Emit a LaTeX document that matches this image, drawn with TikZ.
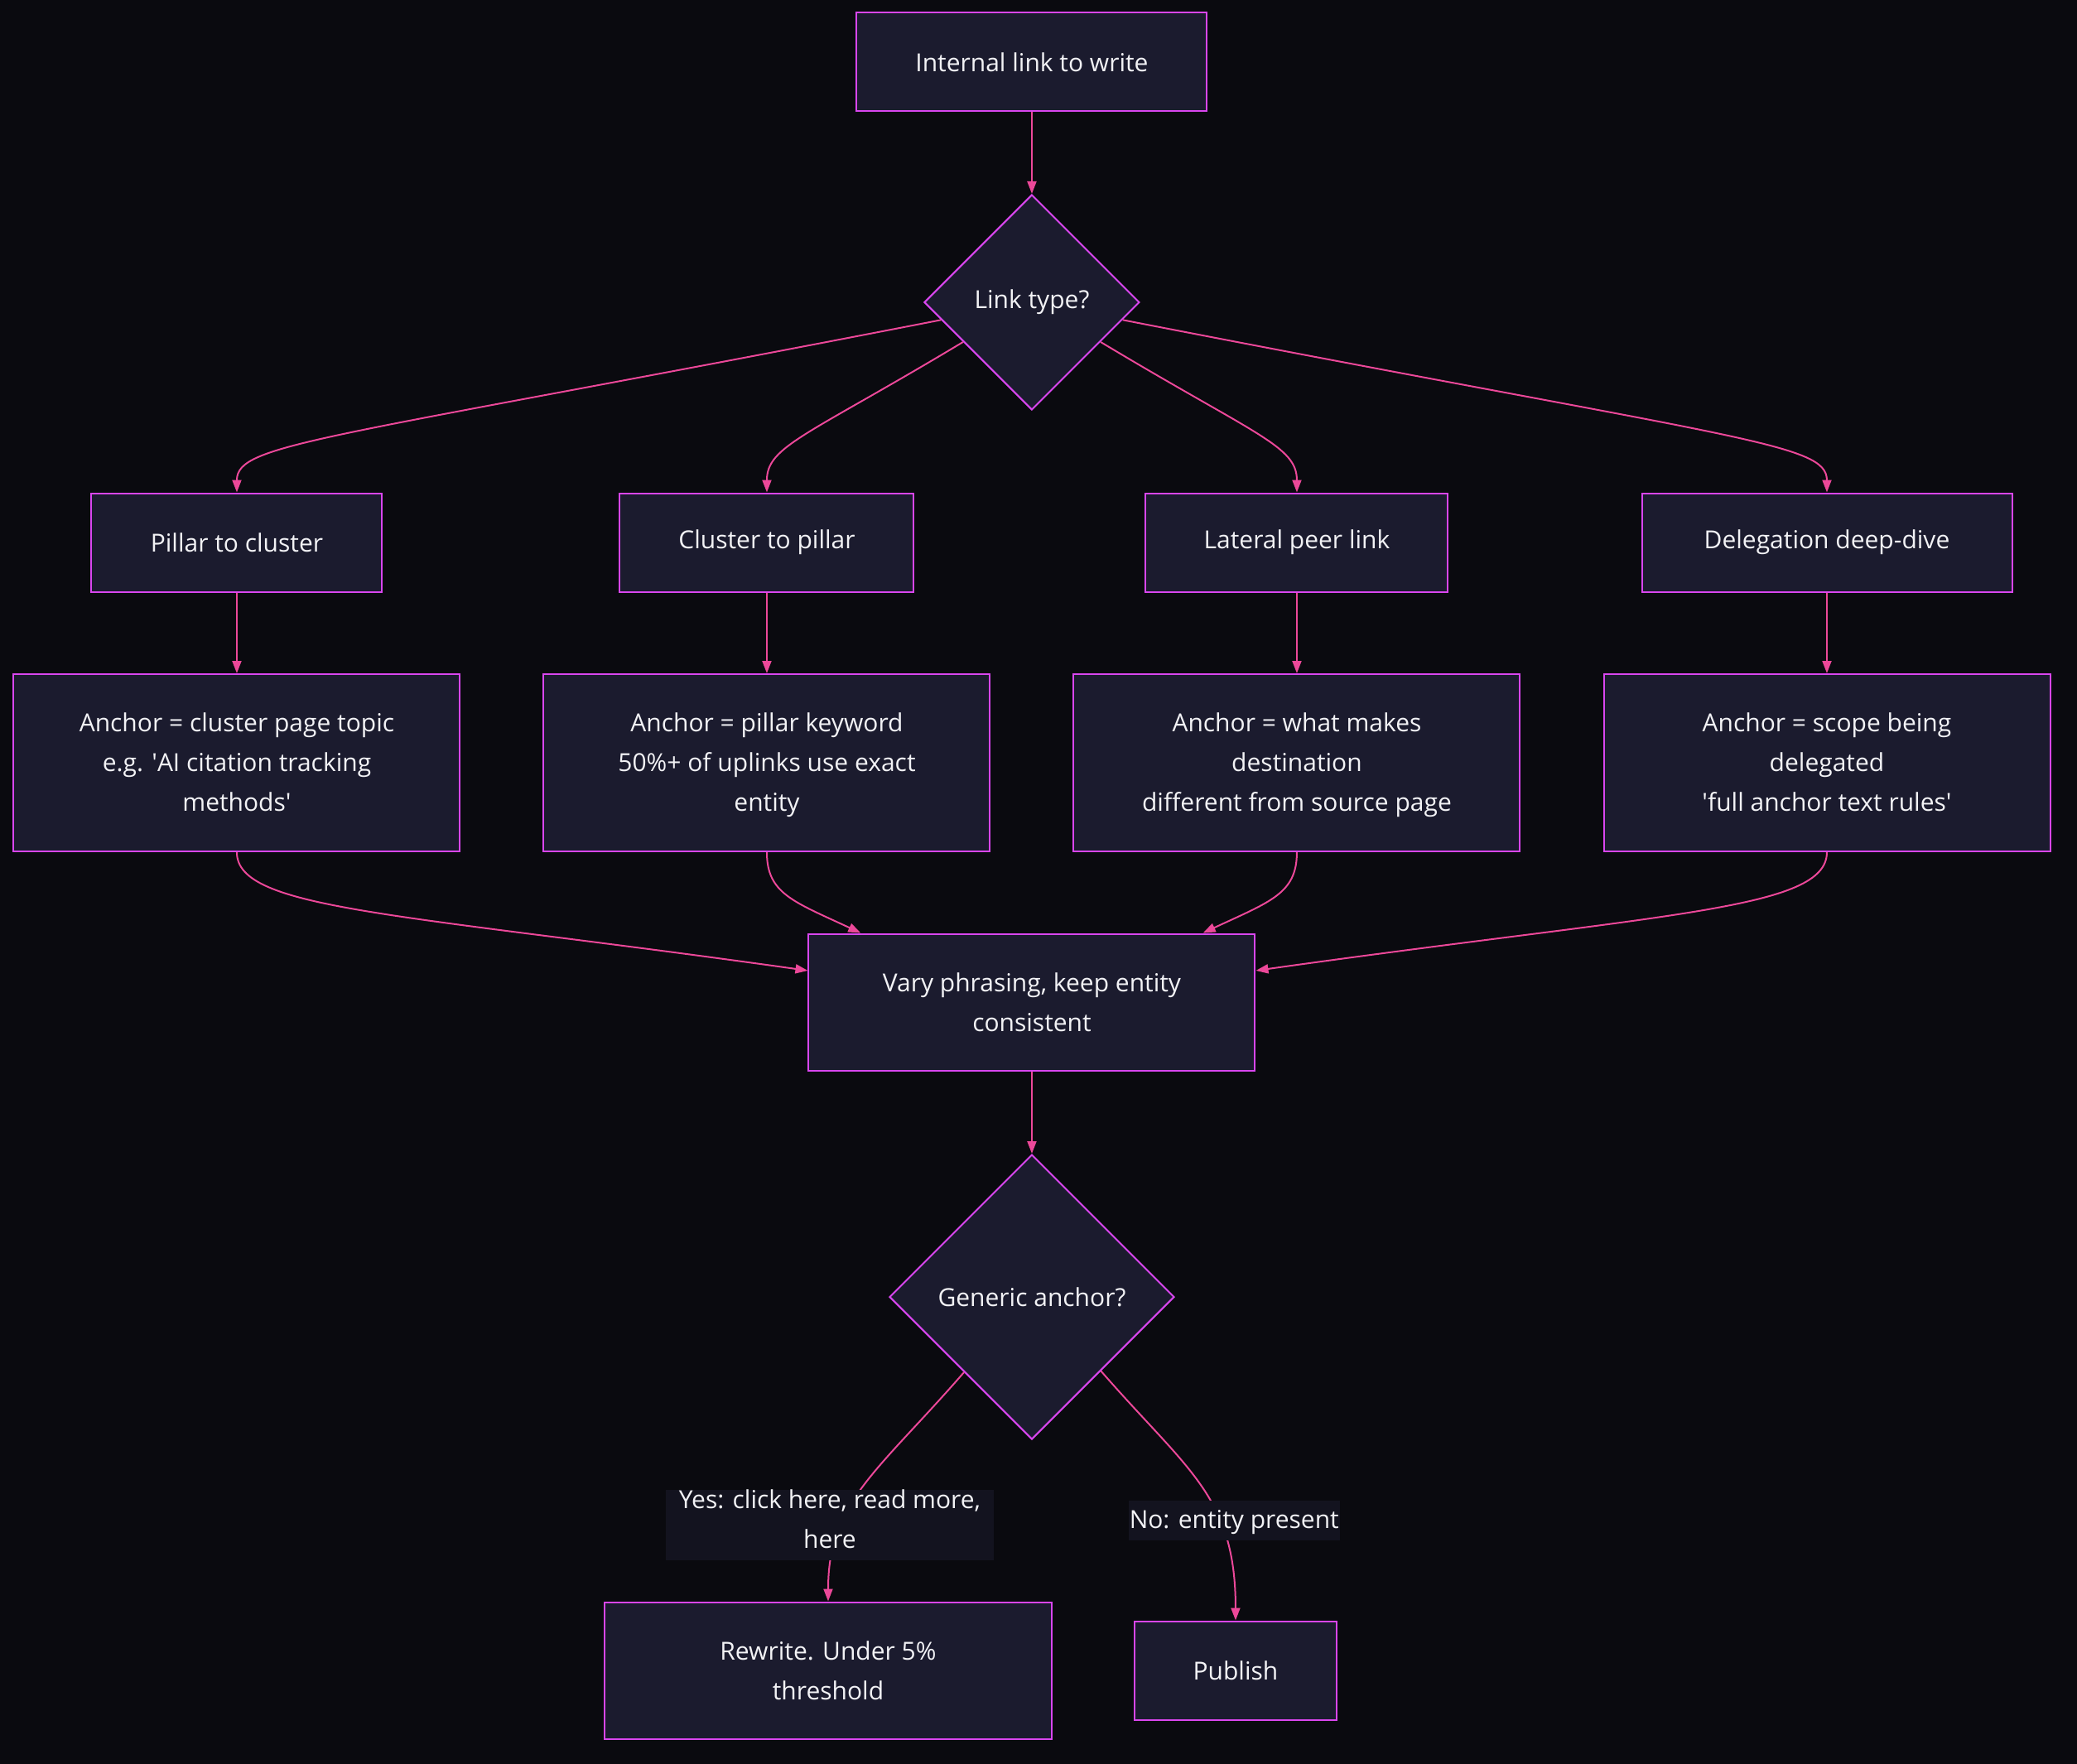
\documentclass[tikz,border=0pt]{standalone}
\usepackage{fontspec}
\setmainfont{Open Sans}
\usetikzlibrary{arrows.meta,positioning,shapes.geometric}
\definecolor{canvas}{HTML}{0A0A0F}
\definecolor{boxfill}{HTML}{1B1B2E}
\definecolor{boxline}{HTML}{D946EF}
\definecolor{linkline}{HTML}{EC4899}
\definecolor{tagfill}{HTML}{13131F}
\definecolor{ink}{HTML}{F2F2F5}
\tikzset{
    box/.style={rectangle,draw=boxline,fill=boxfill,line width=1pt,text=ink,align=center,inner sep=0pt,minimum height=59.5pt},
    wide/.style={minimum width=269.5pt,minimum height=107pt,text height=59.4pt,text depth=1pt},
    choice/.style={diamond,draw=boxline,fill=boxfill,line width=1pt,text=ink,inner sep=0pt,aspect=1},
    flow/.style={-{Triangle[length=7.5pt,width=5.5pt]},draw=linkline,line width=1pt},
    tag/.style={fill=tagfill,text=ink,align=center,inner xsep=0.5pt,inner ysep=0pt,
        execute at begin node=\strut,execute at end node=\strut}
}

\begin{document}
\begin{tikzpicture}[on grid,font=\fontsize{15}{24}\selectfont]
    \useasboundingbox (-623pt,37.5pt) rectangle (631pt,-1027.5pt);
    \fill[canvas] (-623pt,37.5pt) rectangle (631pt,-1027.5pt);

    \node[box,minimum width=211.5pt] (start) {Internal link to write};
    \node[choice,minimum size=130pt] (link type) [below=145pt of start] {Link type?};

    \node[box,minimum width=175.5pt] (kind 1) [below left=145pt and 480pt of link type]  {Pillar to cluster};
    \node[box,minimum width=177.5pt] (kind 2) [below left=145pt and 160pt of link type]  {Cluster to pillar};
    \node[box,minimum width=182.5pt] (kind 3) [below right=145pt and 160pt of link type] {Lateral peer link};
    \node[box,minimum width=223.5pt] (kind 4) [below right=145pt and 480pt of link type] {Delegation deep-dive};

    \node[box,wide] (anchor 1) [below=133pt of kind 1] {Anchor = cluster page topic\\e.g. \textquotesingle AI citation tracking\\methods\textquotesingle};
    \node[box,wide] (anchor 2) [below=133pt of kind 2] {Anchor = pillar keyword\\50\%+ of uplinks use exact\\entity};
    \node[box,wide] (anchor 3) [below=133pt of kind 3] {Anchor = what makes\\destination\\different from source page};
    \node[box,wide] (anchor 4) [below=133pt of kind 4] {Anchor = scope being\\delegated\\\textquotesingle full anchor text rules\textquotesingle};

    \node[box,minimum width=269.5pt,minimum height=82.5pt] (vary) [below=422.5pt of link type] {Vary phrasing, keep entity\\consistent};
    \node[choice,minimum size=172pt] (generic) [below=178pt of vary] {Generic anchor?};

    \node[box,minimum width=270pt,minimum height=82.5pt] (rewrite) [below left=225.5pt and 123pt of generic] {Rewrite. Under 5\%\\threshold};
    \node[box,minimum width=122pt] (publish) [below right=225.5pt and 123pt of generic] {Publish};

    \draw[flow] (start) -- (link type);
    \draw[flow] (link type.191) .. controls +(191:380pt) and +(0,30pt) .. (kind 1.north);
    \draw[flow] (link type.210) .. controls +(211:110pt) and +(0,28pt) .. (kind 2.north);
    \draw[flow] (link type.330) .. controls +(329:110pt) and +(0,28pt) .. (kind 3.north);
    \draw[flow] (link type.349) .. controls +(349:380pt) and +(0,30pt) .. (kind 4.north);

    \draw[flow] (kind 1) -- (anchor 1);
    \draw[flow] (kind 2) -- (anchor 2);
    \draw[flow] (kind 3) -- (anchor 3);
    \draw[flow] (kind 4) -- (anchor 4);

    \draw[flow] (anchor 1.south) .. controls +(0,-35pt) and +(172:250pt) .. (vary.172);
    \draw[flow] (anchor 2.south) .. controls +(0,-25pt) and +(155:45pt) .. (vary.158);
    \draw[flow] (anchor 3.south) .. controls +(0,-25pt) and +(25:45pt) .. (vary.22);
    \draw[flow] (anchor 4.south) .. controls +(0,-35pt) and +(8:250pt) .. (vary.8);

    \draw[flow] (vary) -- (generic);

    \draw[flow] (generic.228) .. controls +(229:80pt) and +(0,60pt) .. node[tag,minimum width=198pt,pos=0.66,xshift=-9pt,yshift=-4pt] {Yes: click here, read more,\\here} (rewrite.north);
    \draw[flow] (generic.313) .. controls +(311:80pt) and +(0,75pt) .. node[tag,pos=0.65,xshift=9.5pt,yshift=-1pt] {No: entity present} (publish.north);
\end{tikzpicture}
\end{document}
